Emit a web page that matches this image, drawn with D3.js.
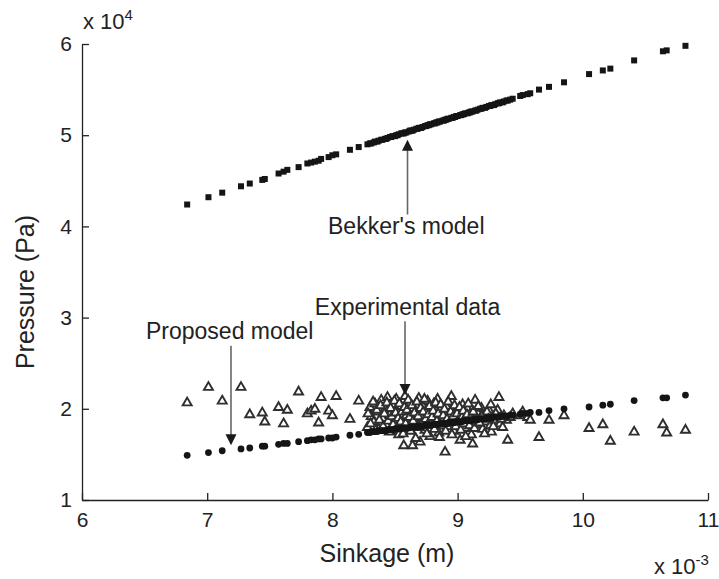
<!DOCTYPE html>
<html><head><meta charset="utf-8">
<script src="https://cdn.jsdelivr.net/npm/d3@7"></script>
<style>
body{margin:0;background:#fff}
svg text{font-family:"Liberation Sans",Arial,Helvetica,sans-serif;fill:#222}
</style>
</head><body>
<svg id="chart" width="719" height="579"></svg>
<script>
const xTicks = [6, 7, 8, 9, 10, 11];
const yTicks = [1, 2, 3, 4, 5, 6];

// sinkage (x 10^-3 m) at which the models are evaluated
const sinkage = [
  6.84, 7.01, 7.12, 7.27, 7.34, 7.44, 7.46, 7.57, 7.61, 7.64, 7.73, 7.80, 7.83, 7.86, 7.89, 7.91, 7.97, 8.00, 8.03, 8.14, 8.21,
  8.28, 8.30, 8.31, 8.33, 8.34, 8.36, 8.37, 8.39, 8.40, 8.42,
  8.43, 8.44, 8.46, 8.47, 8.48, 8.50, 8.51, 8.52, 8.53, 8.55,
  8.56, 8.57, 8.58, 8.59, 8.61, 8.62, 8.63, 8.64, 8.65, 8.67,
  8.68, 8.69, 8.70, 8.71, 8.72, 8.74, 8.75, 8.76, 8.77, 8.78,
  8.79, 8.81, 8.82, 8.83, 8.84, 8.85, 8.86, 8.88, 8.89, 8.90,
  8.91, 8.92, 8.93, 8.95, 8.96, 8.97, 8.98, 8.99, 9.00, 9.02,
  9.03, 9.04, 9.05, 9.06, 9.08, 9.09, 9.10, 9.11, 9.12, 9.14,
  9.15, 9.16, 9.18, 9.19, 9.20, 9.22, 9.23, 9.25, 9.26, 9.27,
  9.29, 9.30, 9.32, 9.33, 9.34, 9.36, 9.37, 9.39, 9.40, 9.42,
  9.44,
  9.50, 9.52, 9.56, 9.58, 9.65, 9.73, 9.85, 10.05, 10.16, 10.22, 10.41, 10.64, 10.67, 10.82
];

// pressure (x 10^4 Pa), proposed model
const proposedModel = [
  1.49, 1.52, 1.54, 1.56, 1.57, 1.59, 1.59, 1.61, 1.62, 1.62, 1.64, 1.65, 1.66, 1.66, 1.67, 1.67, 1.68, 1.68, 1.69, 1.71, 1.72,
  1.74, 1.74, 1.75, 1.75, 1.75, 1.75, 1.76, 1.76, 1.76, 1.76,
  1.76, 1.77, 1.77, 1.77, 1.77, 1.78, 1.78, 1.78, 1.78, 1.78,
  1.79, 1.79, 1.79, 1.79, 1.79, 1.80, 1.80, 1.80, 1.80, 1.80,
  1.81, 1.81, 1.81, 1.81, 1.81, 1.82, 1.82, 1.82, 1.82, 1.82,
  1.82, 1.83, 1.83, 1.83, 1.83, 1.83, 1.84, 1.84, 1.84, 1.84,
  1.84, 1.84, 1.85, 1.85, 1.85, 1.85, 1.85, 1.86, 1.86, 1.86,
  1.86, 1.86, 1.87, 1.87, 1.87, 1.87, 1.87, 1.88, 1.88, 1.88,
  1.88, 1.88, 1.89, 1.89, 1.89, 1.89, 1.90, 1.90, 1.90, 1.90,
  1.91, 1.91, 1.91, 1.91, 1.91, 1.92, 1.92, 1.92, 1.92, 1.93,
  1.93,
  1.94, 1.95, 1.95, 1.96, 1.96, 1.98, 2.00, 2.02, 2.04, 2.05, 2.09, 2.12, 2.12, 2.15
];

// pressure (x 10^4 Pa), Bekker's model
const bekkerModel = [
  4.24, 4.32, 4.37, 4.44, 4.47, 4.51, 4.52, 4.58, 4.60, 4.62, 4.65, 4.69, 4.70, 4.71, 4.72, 4.74, 4.76, 4.78, 4.79, 4.84, 4.87,
  4.90, 4.91, 4.91, 4.92, 4.93, 4.93, 4.94, 4.95, 4.95, 4.96,
  4.96, 4.97, 4.98, 4.98, 4.99, 4.99, 5.00, 5.00, 5.01, 5.02,
  5.02, 5.02, 5.03, 5.03, 5.04, 5.05, 5.05, 5.05, 5.06, 5.07,
  5.07, 5.08, 5.08, 5.08, 5.09, 5.10, 5.10, 5.11, 5.11, 5.12,
  5.12, 5.13, 5.13, 5.14, 5.14, 5.15, 5.15, 5.16, 5.16, 5.17,
  5.17, 5.18, 5.18, 5.19, 5.19, 5.20, 5.20, 5.21, 5.21, 5.22,
  5.22, 5.23, 5.23, 5.24, 5.24, 5.25, 5.25, 5.26, 5.26, 5.27,
  5.27, 5.28, 5.29, 5.29, 5.30, 5.30, 5.31, 5.32, 5.32, 5.33,
  5.33, 5.34, 5.35, 5.35, 5.36, 5.36, 5.37, 5.38, 5.38, 5.39,
  5.40,
  5.43, 5.44, 5.45, 5.46, 5.50, 5.53, 5.58, 5.67, 5.71, 5.73, 5.82, 5.92, 5.93, 5.98
];

// experimental measurements: sinkage (x 10^-3 m)
const expSinkage = [
  6.84, 7.01, 7.12, 7.27, 7.34, 7.44, 7.46, 7.57, 7.61, 7.64, 7.73, 7.80, 7.83, 7.86, 7.89, 7.91, 7.97, 8.00, 8.03, 8.14, 8.21,
  8.28, 8.30, 8.31, 8.33, 8.34, 8.36, 8.37, 8.39, 8.40, 8.42,
  8.43, 8.44, 8.46, 8.47, 8.48, 8.50, 8.51, 8.52, 8.53, 8.55,
  8.56, 8.57, 8.58, 8.59, 8.61, 8.62, 8.63, 8.64, 8.65, 8.67,
  8.68, 8.69, 8.70, 8.71, 8.72, 8.74, 8.75, 8.76, 8.77, 8.78,
  8.79, 8.81, 8.82, 8.83, 8.84, 8.85, 8.86, 8.88, 8.89, 8.90,
  8.91, 8.92, 8.93, 8.95, 8.96, 8.97, 8.98, 8.99, 9.00, 9.02,
  9.03, 9.04, 9.05, 9.06, 9.08, 9.09, 9.10, 9.11, 9.12, 9.14,
  9.15, 9.16, 9.18, 9.19, 9.20, 9.22, 9.23, 9.25, 9.26, 9.27,
  9.29, 9.30, 9.32, 9.33, 9.34, 9.36, 9.37, 9.39, 9.40, 9.42,
  9.44,
  9.50, 9.52, 9.56, 9.58, 9.65, 9.73, 9.85, 10.05, 10.16, 10.22, 10.41, 10.64, 10.67, 10.82,
  8.285, 8.305, 8.325, 8.345, 8.355, 8.375, 8.385, 8.405, 8.415, 8.435,
  8.445, 8.455, 8.465, 8.475, 8.485, 8.495, 8.505, 8.515, 8.525, 8.535,
  8.545, 8.555, 8.565, 8.575, 8.585, 8.595, 8.605, 8.615, 8.625, 8.635,
  8.645, 8.655, 8.665, 8.675, 8.685, 8.695, 8.705, 8.715, 8.725, 8.735,
  8.745, 8.755, 8.765, 8.775, 8.785, 8.795, 8.805, 8.815, 8.825, 8.835,
  8.845, 8.855, 8.865, 8.875, 8.885, 8.895, 8.905, 8.915, 8.925, 8.935,
  8.945, 8.955, 8.965, 8.975, 8.985, 8.995, 9.005, 9.015, 9.025, 9.035,
  9.045, 9.055, 9.065, 9.075, 9.085, 9.095, 9.105, 9.125, 9.135, 9.145,
  9.165, 9.175, 9.195, 9.215, 9.235, 9.245, 9.265, 9.285, 9.305, 9.345
];

// experimental measurements: pressure (x 10^4 Pa)
const expPressure = [
  2.07, 2.24, 2.09, 2.24, 1.94, 1.96, 1.86, 2.02, 1.84, 1.99, 2.19, 1.95, 1.98, 2.00, 1.85, 2.13, 1.98, 1.93, 2.14, 1.89, 2.09,
  1.80, 2.02, 1.92, 1.86, 2.06, 1.97, 1.78, 2.10, 1.90, 2.00,
  1.83, 2.13, 1.94, 1.76, 2.05, 1.88, 2.11, 1.98, 1.72, 2.03,
  1.85, 1.60, 2.14, 1.93, 1.79, 2.07, 1.89, 1.60, 2.01, 1.95,
  1.82, 2.12, 1.64, 1.91, 2.04, 1.77, 1.99, 2.09, 1.86, 1.70,
  1.96, 2.06, 1.84, 1.92, 2.11, 1.74, 2.00, 1.88, 1.97, 1.53,
  2.03, 1.81, 1.94, 2.14, 1.87, 1.76, 2.02, 1.90, 1.98, 1.66,
  1.85, 2.05, 1.93, 1.79, 2.00, 1.88, 1.95, 1.72, 1.62, 2.10,
  1.83, 1.96, 1.90, 2.01, 1.78, 1.94, 1.86, 1.99, 1.82, 1.75,
  1.92, 1.87, 1.99, 2.13, 1.84, 1.80, 1.93, 1.88, 1.66, 1.91,
  1.95,
  1.93, 1.97, 1.91, 1.88, 1.69, 1.88, 1.93, 1.79, 1.83, 1.65, 1.75, 1.83, 1.74, 1.77,
  1.95, 1.84, 2.08, 1.77, 1.99, 1.88, 2.04, 1.81, 1.95, 2.07,
  1.87, 1.75, 2.01, 1.92, 1.83, 2.09, 1.96, 1.79, 1.90, 2.06,
  1.86, 1.97, 1.73, 2.02, 1.84, 1.99, 2.10, 1.91, 1.76, 2.04,
  1.87, 1.96, 1.68, 2.08, 1.92, 1.80, 2.01, 1.85, 1.97, 2.11,
  1.89, 1.73, 1.94, 2.03, 1.83, 1.91, 1.98, 1.78, 2.07, 1.87,
  1.95, 1.69, 2.05, 1.82, 1.93, 2.00, 1.76, 1.89, 2.08, 1.85,
  1.97, 1.72, 1.92, 2.04, 1.81, 1.95, 1.87, 2.02, 1.77, 1.91,
  1.98, 1.84, 1.70, 1.94, 2.06, 1.82, 1.90, 1.97, 1.79, 1.87,
  2.03, 1.85, 1.92, 1.73, 1.97, 1.89, 2.05, 1.81, 1.95, 1.89
];

// annotations in data units
const annotations = [
  {text: "Bekker's model",    tx: 8.59, ty: 3.92, ax: 8.60, tail: 4.13, tip: 4.95},
  {text: "Experimental data", tx: 8.60, ty: 3.03, ax: 8.58, tail: 2.96, tip: 2.15},
  {text: "Proposed model",    tx: 7.18, ty: 2.77, ax: 7.19, tail: 2.69, tip: 1.60}
];

const svg = d3.select("#chart");
const x = d3.scaleLinear().domain([6, 11]).range([82, 708]);
const y = d3.scaleLinear().domain([1, 6]).range([500, 44]);
const ink = "#222";

// axes
const gx = svg.append("g").attr("transform", `translate(0,${y(1)})`)
  .call(d3.axisBottom(x).tickValues(xTicks).tickSize(-7).tickSizeOuter(0).tickPadding(12).tickFormat(d3.format("d")));
const gy = svg.append("g").attr("transform", `translate(${x(6)},0)`)
  .call(d3.axisLeft(y).tickValues(yTicks).tickSize(-7).tickSizeOuter(0).tickPadding(10).tickFormat(d3.format("d")));
[gx, gy].forEach(g => {
  g.select(".domain").attr("stroke", ink).attr("stroke-width", 1.3);
  g.selectAll(".tick line").attr("stroke", ink).attr("stroke-width", 1.3);
  g.selectAll(".tick text").attr("font-size", 21).attr("fill", ink)
    .style("font-family", '"Liberation Sans", Arial, sans-serif');
});

// axis titles
svg.append("text").attr("x", (x(6) + x(11)) / 2 - 8).attr("y", 562)
  .attr("text-anchor", "middle").attr("font-size", 25).text("Sinkage (m)");
svg.append("text").attr("transform", `translate(34,${(y(1) + y(6)) / 2 + 20}) rotate(-90)`)
  .attr("text-anchor", "middle").attr("font-size", 25).text("Pressure (Pa)");

// exponent labels
const e1 = svg.append("text").attr("x", x(6) + 1).attr("y", 29).attr("font-size", 22);
e1.append("tspan").text("x 10");
e1.append("tspan").attr("font-size", 15).attr("dy", -9).text("4");
const e2 = svg.append("text").attr("x", 654).attr("y", 574).attr("font-size", 22);
e2.append("tspan").text("x 10");
e2.append("tspan").attr("font-size", 15).attr("dy", -9).text("-3");

const modelPts = sinkage.map((s, i) => ({s, p: proposedModel[i], b: bekkerModel[i]}));
const expPts = expSinkage.map((s, i) => ({s, e: expPressure[i]}));

// Bekker squares
svg.append("g").selectAll("rect").data(modelPts).join("rect")
  .attr("x", d => x(d.s) - 3).attr("y", d => y(d.b) - 3)
  .attr("width", 6).attr("height", 6).attr("fill", "#151515");

// experimental triangles
const triPath = "M0,-4.8 L4.5,3 L-4.5,3 Z";
svg.append("g").selectAll("path").data(expPts).join("path")
  .attr("d", triPath)
  .attr("transform", d => `translate(${x(d.s)},${y(d.e)})`)
  .attr("fill", "#fff").attr("stroke", "#2e2e2e").attr("stroke-width", 1.9);

// proposed circles
svg.append("g").selectAll("circle").data(modelPts).join("circle")
  .attr("cx", d => x(d.s)).attr("cy", d => y(d.p)).attr("r", 3.4).attr("fill", "#151515");

// annotations
const ag = svg.append("g");
annotations.forEach(a => {
  ag.append("text").attr("x", x(a.tx)).attr("y", y(a.ty)).attr("text-anchor", "middle")
    .attr("font-size", 23).text(a.text);
  const up = a.tip > a.tail;
  const tipY = y(a.tip), dir = up ? 1 : -1;
  const ax = x(a.ax);
  ag.append("line").attr("x1", ax).attr("x2", ax)
    .attr("y1", y(a.tail)).attr("y2", tipY + dir * 8)
    .attr("stroke", "#666").attr("stroke-width", 1.6);
  ag.append("path")
    .attr("d", `M${ax},${tipY} L${ax - 5.5},${tipY + dir * 11} L${ax + 5.5},${tipY + dir * 11} Z`)
    .attr("fill", "#1a1a1a");
});
</script>
</body></html>
